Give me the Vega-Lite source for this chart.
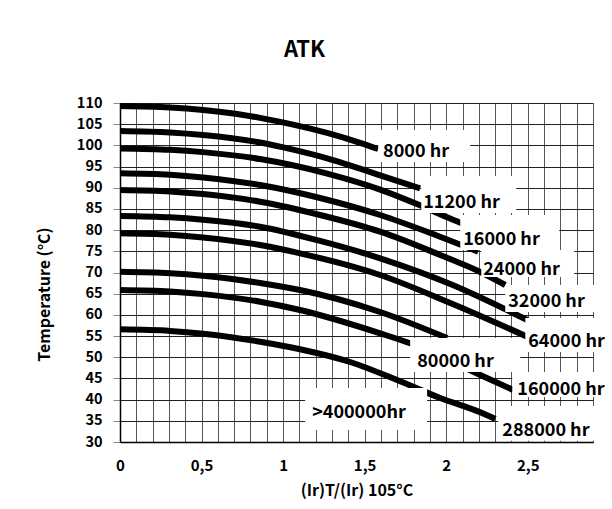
{
  "$schema": "https://vega.github.io/schema/vega-lite/v6.json",
  "width": 473,
  "height": 339,
  "autosize": "none",
  "padding": {"left": 120, "top": 103, "right": 19, "bottom": 67},
  "background": "white",
  "title": {"text": "ATK", "fontSize": 22, "font": "Noto Sans CJK SC", "fontWeight": "bold", "offset": 32, "dx": -52, "color": "black"},
  "config": {"view": {"stroke": null}},
  "resolve": {"axis": {"x": "independent", "y": "independent"}},
  "datasets": {
    "curves": [
      {"s": "L1", "x": 0, "t": 109.29}, {"s": "L1", "x": 0.307, "t": 108.95}, {"s": "L1", "x": 0.509, "t": 108.35}, {"s": "L1", "x": 0.718, "t": 107.4}, {"s": "L1", "x": 0.859, "t": 106.5}, {"s": "L1", "x": 1.061, "t": 104.9}, {"s": "L1", "x": 1.27, "t": 102.95}, {"s": "L1", "x": 1.472, "t": 100.6}, {"s": "L1", "x": 1.583, "t": 99.14},
      {"s": "L2", "x": 0, "t": 103.39}, {"s": "L2", "x": 0.307, "t": 103.04}, {"s": "L2", "x": 0.509, "t": 102.44}, {"s": "L2", "x": 0.859, "t": 100.68}, {"s": "L2", "x": 1.061, "t": 99.0}, {"s": "L2", "x": 1.27, "t": 96.95}, {"s": "L2", "x": 1.472, "t": 94.5}, {"s": "L2", "x": 1.675, "t": 91.9}, {"s": "L2", "x": 1.84, "t": 89.87},
      {"s": "L3", "x": 0, "t": 99.29}, {"s": "L3", "x": 0.307, "t": 98.97}, {"s": "L3", "x": 0.509, "t": 98.41}, {"s": "L3", "x": 0.859, "t": 96.77}, {"s": "L3", "x": 1.27, "t": 93.35}, {"s": "L3", "x": 1.595, "t": 89.57}, {"s": "L3", "x": 1.828, "t": 86.03}, {"s": "L3", "x": 1.994, "t": 83.2}, {"s": "L3", "x": 2.098, "t": 81.55},
      {"s": "L4", "x": 0, "t": 93.41}, {"s": "L4", "x": 0.307, "t": 93.06}, {"s": "L4", "x": 0.509, "t": 92.44}, {"s": "L4", "x": 0.859, "t": 90.65}, {"s": "L4", "x": 1.227, "t": 87.58}, {"s": "L4", "x": 1.595, "t": 83.57}, {"s": "L4", "x": 1.902, "t": 79.33}, {"s": "L4", "x": 2.196, "t": 74.91},
      {"s": "L5", "x": 0, "t": 89.47}, {"s": "L5", "x": 0.307, "t": 89.12}, {"s": "L5", "x": 0.509, "t": 88.5}, {"s": "L5", "x": 0.859, "t": 86.71}, {"s": "L5", "x": 1.227, "t": 83.57}, {"s": "L5", "x": 1.595, "t": 79.63}, {"s": "L5", "x": 1.963, "t": 74.13}, {"s": "L5", "x": 2.209, "t": 70.12}, {"s": "L5", "x": 2.362, "t": 67.05},
      {"s": "L6", "x": 0, "t": 83.33}, {"s": "L6", "x": 0.307, "t": 83.01}, {"s": "L6", "x": 0.509, "t": 82.45}, {"s": "L6", "x": 0.859, "t": 80.81}, {"s": "L6", "x": 1.227, "t": 77.44}, {"s": "L6", "x": 1.595, "t": 73.35}, {"s": "L6", "x": 2.025, "t": 67.29}, {"s": "L6", "x": 2.497, "t": 58.79},
      {"s": "L7", "x": 0, "t": 79.25}, {"s": "L7", "x": 0.307, "t": 78.9}, {"s": "L7", "x": 0.509, "t": 78.28}, {"s": "L7", "x": 0.859, "t": 76.49}, {"s": "L7", "x": 1.104, "t": 74.53}, {"s": "L7", "x": 1.595, "t": 69.41}, {"s": "L7", "x": 2.025, "t": 62.8}, {"s": "L7", "x": 2.497, "t": 54.85},
      {"s": "L8", "x": 0, "t": 70.19}, {"s": "L8", "x": 0.307, "t": 69.85}, {"s": "L8", "x": 0.509, "t": 69.25}, {"s": "L8", "x": 0.859, "t": 67.52}, {"s": "L8", "x": 1.104, "t": 65.87}, {"s": "L8", "x": 1.595, "t": 60.68}, {"s": "L8", "x": 2.006, "t": 54.54},
      {"s": "L9", "x": 0, "t": 65.87}, {"s": "L9", "x": 0.307, "t": 65.52}, {"s": "L9", "x": 0.509, "t": 64.9}, {"s": "L9", "x": 0.859, "t": 63.11}, {"s": "L9", "x": 1.104, "t": 61.15}, {"s": "L9", "x": 1.595, "t": 55.65}, {"s": "L9", "x": 1.779, "t": 53.29}, {"s": "L9", "x": 2.209, "t": 45.81}, {"s": "L9", "x": 2.411, "t": 42.27},
      {"s": "L10", "x": 0, "t": 56.59}, {"s": "L10", "x": 0.307, "t": 56.22}, {"s": "L10", "x": 0.509, "t": 55.57}, {"s": "L10", "x": 0.859, "t": 53.67}, {"s": "L10", "x": 1.104, "t": 51.9}, {"s": "L10", "x": 1.411, "t": 48.88}, {"s": "L10", "x": 1.699, "t": 44.63}, {"s": "L10", "x": 1.963, "t": 40.38}, {"s": "L10", "x": 2.209, "t": 37.0}, {"s": "L10", "x": 2.301, "t": 35.42}
    ],
    "boxes": [
      {"x1": 1.583, "x2": 2.147, "t1": 103.63, "t2": 96.08},
      {"x1": 1.847, "x2": 2.429, "t1": 92.77, "t2": 84.04},
      {"x1": 2.086, "x2": 2.693, "t1": 83.57, "t2": 75.31},
      {"x1": 2.215, "x2": 2.785, "t1": 75.31, "t2": 68.94},
      {"x1": 2.362, "x2": 2.945, "t1": 67.05, "t2": 60.68},
      {"x1": 2.485, "x2": 3.0, "t1": 59.26, "t2": 51.24},
      {"x1": 1.779, "x2": 2.454, "t1": 54.54, "t2": 46.52},
      {"x1": 2.405, "x2": 2.945, "t1": 46.52, "t2": 40.62},
      {"x1": 2.319, "x2": 2.975, "t1": 38.49, "t2": 30.3},
      {"x1": 1.135, "x2": 1.883, "t1": 42.74, "t2": 32.83}
    ],
    "labels": [
      {"x": 1.613, "t": 97.26, "label": "8000 hr"},
      {"x": 1.859, "t": 85.15, "label": "11200 hr"},
      {"x": 2.104, "t": 76.49, "label": "16000 hr"},
      {"x": 2.227, "t": 69.41, "label": "24000 hr"},
      {"x": 2.38, "t": 61.93, "label": "32000 hr"},
      {"x": 2.503, "t": 52.49, "label": "64000 hr"},
      {"x": 1.822, "t": 47.77, "label": "80000 hr"},
      {"x": 2.436, "t": 41.09, "label": "160000 hr"},
      {"x": 2.344, "t": 31.53, "label": "288000 hr"},
      {"x": 1.178, "t": 35.59, "label": ">400000hr"}
    ]
  },
  "layer": [
    {
      "data": {"name": "curves"},
      "mark": {"type": "line", "color": "black", "strokeWidth": 6, "interpolate": "monotone", "strokeCap": "butt"},
      "encoding": {
        "x": {
          "field": "x", "type": "quantitative",
          "scale": {"domain": [0, 2.9], "nice": false, "zero": false},
          "axis": {
            "orient": "bottom",
            "title": "(Ir)T/(Ir) 105°C",
            "values": [0, 0.5, 1, 1.5, 2, 2.5],
            "labelExpr": "replace(format(datum.value, '.1~f'), '.', ',')",
            "grid": false,
            "ticks": false, "tickSize": 0,
            "domainColor": "black", "domainWidth": 1.5,
            "labelFont": "Noto Sans CJK SC", "labelFontSize": 15, "labelFontWeight": "bold", "labelColor": "black",
            "labelPadding": 16, "labelOverlap": false, "labelBound": false, "labelFlush": false,
            "titleFont": "Noto Sans CJK SC", "titleFontSize": 16, "titleFontWeight": "bold", "titleColor": "black",
            "titleY": 40
          }
        },
        "y": {
          "field": "t", "type": "quantitative",
          "scale": {"domain": [30, 110], "nice": false, "zero": false},
          "axis": {
            "orient": "left",
            "title": "Temperature (°C)",
            "values": [30, 35, 40, 45, 50, 55, 60, 65, 70, 75, 80, 85, 90, 95, 100, 105, 110],
            "grid": true, "gridColor": "#222", "gridWidth": 1, "gridOpacity": 1,
            "ticks": true, "tickSize": 7, "tickColor": "#888",
            "domainColor": "black", "domainWidth": 1.5,
            "labelFont": "Noto Sans CJK SC", "labelFontSize": 14.5, "labelFontWeight": "bold", "labelColor": "black",
            "labelPadding": 11, "labelOverlap": false,
            "titleFont": "Noto Sans CJK SC", "titleFontSize": 16, "titleFontWeight": "bold", "titleColor": "black",
            "titleX": -68, "titleY": 191
          }
        },
        "detail": {"field": "s"}
      }
    },
    {
      "data": {"name": "boxes"},
      "mark": {"type": "rect", "fill": "white"},
      "encoding": {
        "x": {
          "field": "x1", "type": "quantitative",
          "axis": {
            "orient": "bottom",
            "title": null,
            "values": [0, 0.1, 0.2, 0.3, 0.4, 0.5, 0.6, 0.7, 0.8, 0.9, 1, 1.1, 1.2, 1.3, 1.4, 1.5, 1.6, 1.7, 1.8, 1.9, 2, 2.1, 2.2, 2.3, 2.4, 2.5, 2.6, 2.7, 2.8, 2.9],
            "grid": true, "gridColor": "#555", "gridWidth": 1, "gridOpacity": 1,
            "labels": false, "ticks": false, "domain": false
          }
        },
        "x2": {"field": "x2"},
        "y": {"field": "t1", "type": "quantitative", "axis": null},
        "y2": {"field": "t2"}
      }
    },
    {
      "data": {"name": "labels"},
      "mark": {"type": "text", "align": "left", "baseline": "alphabetic", "font": "Noto Sans CJK SC", "fontSize": 18, "fontWeight": "bold", "color": "black"},
      "encoding": {
        "x": {"field": "x", "type": "quantitative", "axis": null},
        "y": {"field": "t", "type": "quantitative", "axis": null},
        "text": {"field": "label"}
      }
    }
  ]
}
